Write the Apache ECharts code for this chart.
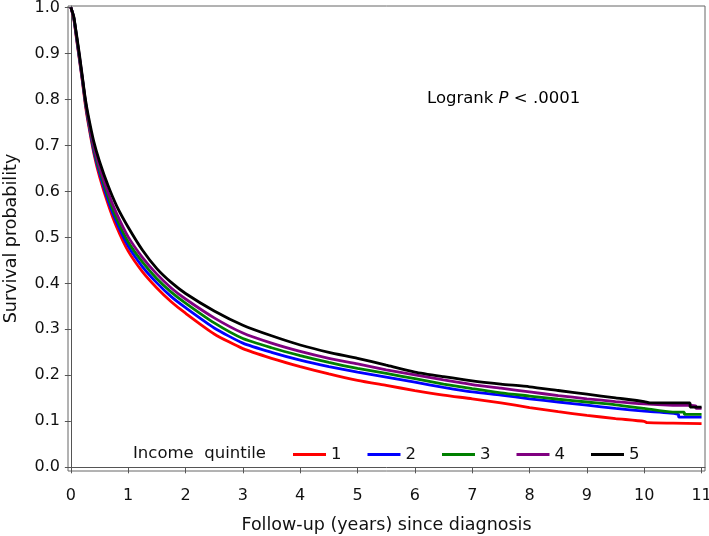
<!DOCTYPE html>
<html>
<head>
<meta charset="utf-8">
<script src="https://cdn.jsdelivr.net/npm/echarts@6/dist/echarts.min.js"></script>
<style>html,body{margin:0;padding:0;background:#fff}#c{width:709px;height:536px}</style>
</head>
<body>
<div id="c"></div>
<script>
var times = [0, 0.05, 0.1, 0.15, 0.2, 0.25, 0.3, 0.4, 0.5, 0.65, 0.8, 1.0, 1.25, 1.5, 1.75, 2, 2.5, 3, 3.5, 4, 4.5, 5, 5.5, 6, 6.5, 7, 7.5, 8, 8.5, 9, 9.5, 10];
var q1 = [1.0, 0.975, 0.93, 0.885, 0.84, 0.79, 0.75, 0.683, 0.632, 0.572, 0.522, 0.47, 0.425, 0.39, 0.36, 0.335, 0.29, 0.258, 0.237, 0.219, 0.203, 0.189, 0.178, 0.167, 0.157, 0.149, 0.14, 0.13, 0.121, 0.113, 0.106, 0.1];
var q2 = [1.0, 0.977, 0.933, 0.888, 0.843, 0.795, 0.755, 0.688, 0.64, 0.58, 0.532, 0.481, 0.436, 0.401, 0.371, 0.347, 0.303, 0.27, 0.25, 0.233, 0.219, 0.207, 0.196, 0.185, 0.174, 0.164, 0.157, 0.149, 0.142, 0.135, 0.128, 0.122];
var q3 = [1.0, 0.978, 0.935, 0.89, 0.845, 0.797, 0.758, 0.693, 0.646, 0.588, 0.54, 0.49, 0.446, 0.41, 0.381, 0.357, 0.314, 0.28, 0.26, 0.243, 0.228, 0.215, 0.204, 0.193, 0.181, 0.171, 0.162, 0.155, 0.148, 0.142, 0.136, 0.128];
var q4 = [1.0, 0.979, 0.937, 0.893, 0.847, 0.8, 0.761, 0.698, 0.653, 0.597, 0.551, 0.501, 0.456, 0.42, 0.39, 0.366, 0.325, 0.292, 0.27, 0.252, 0.237, 0.225, 0.212, 0.201, 0.19, 0.18, 0.172, 0.164, 0.156, 0.149, 0.143, 0.138];
var q5 = [1.0, 0.98, 0.94, 0.897, 0.85, 0.803, 0.767, 0.708, 0.665, 0.612, 0.568, 0.522, 0.472, 0.432, 0.402, 0.378, 0.34, 0.309, 0.286, 0.266, 0.25, 0.237, 0.222, 0.207, 0.197, 0.188, 0.181, 0.175, 0.167, 0.159, 0.151, 0.143];
// tail segments (time, value) after 10 years, with step drops
var tail1 = [[10.05, 0.097], [10.5, 0.096], [11, 0.095]];
var tail2 = [[10.6, 0.115], [10.6, 0.109], [11, 0.109]];
var tail3 = [[10.5, 0.12], [10.7, 0.12], [10.7, 0.115], [11, 0.115]];
var tail4 = [[10.5, 0.135], [10.9, 0.134], [10.9, 0.128], [11, 0.128]];
var tail5 = [[10.1, 0.14], [10.8, 0.14], [10.8, 0.131], [11, 0.131]];
var quintiles = ['1', '2', '3', '4', '5'];
var colors = ['#ff0000', '#0000ff', '#008000', '#800080', '#000000'];
var xTicks = [0, 1, 2, 3, 4, 5, 6, 7, 8, 9, 10, 11];
var yTicks = [0, 0.1, 0.2, 0.3, 0.4, 0.5, 0.6, 0.7, 0.8, 0.9, 1.0];

function pts(vals, tail) {
  var out = times.map(function (t, i) { return [t, vals[i]]; });
  return out.concat(tail);
}
var allVals = [q1, q2, q3, q4, q5];
var allTails = [tail1, tail2, tail3, tail4, tail5];
var FONT = 'DejaVu Sans';

var chart = echarts.init(document.getElementById('c'), null, {renderer: 'canvas'});
chart.setOption({
  animation: false,
  backgroundColor: '#fff',
  grid: {left: 68, right: 4, top: 6, bottom: 65, show: true, borderColor: '#666', borderWidth: 1,
    containLabel: false, outerBoundsMode: 'none'},
  xAxis: {
    type: 'value', min: -0.05, max: 11.06,
    axisLine: {show: true, lineStyle: {color: '#555', width: 1}},
    axisTick: {show: true, length: 6, lineStyle: {color: '#555'}, customValues: xTicks},
    axisLabel: {fontFamily: FONT, fontSize: 16, color: '#111', margin: 17, customValues: xTicks},
    splitLine: {show: false},
    name: 'Follow-up (years) since diagnosis', nameLocation: 'middle', nameGap: 45, nameMoveOverlap: false,
    nameTextStyle: {fontFamily: FONT, fontSize: 17.5, color: '#111'}
  },
  yAxis: {
    type: 'value', min: -0.008, max: 1.003,
    axisLine: {show: true, lineStyle: {color: '#555', width: 1}},
    axisTick: {show: true, length: 6, lineStyle: {color: '#555'}, customValues: yTicks},
    axisLabel: {fontFamily: FONT, fontSize: 16, color: '#111', margin: 8, customValues: yTicks,
      formatter: function (v) { return v.toFixed(1); }},
    splitLine: {show: false},
    name: 'Survival probability', nameLocation: 'middle', nameGap: 48, nameMoveOverlap: false,
    nameTextStyle: {fontFamily: FONT, fontSize: 17.5, color: '#111'}
  },
  legend: {
    data: quintiles, left: 293, top: 446, padding: 0, icon: 'rect', itemWidth: 33, itemHeight: 3,
    itemGap: 26, textStyle: {fontFamily: FONT, fontSize: 16.5, color: '#111'}
  },
  graphic: [
    {type: 'text', left: 133, top: 445, style: {text: 'Income  quintile', font: '16.5px "DejaVu Sans"', fill: '#111'}},
    {type: 'text', left: 427, top: 90, style: {
      text: '{a|Logrank }{b|P}{a| < .0001}',
      rich: {a: {fontFamily: FONT, fontSize: 16.5, color: '#111'}, b: {fontFamily: FONT, fontSize: 16.5, fontStyle: 'italic', color: '#111'}}
    }}
  ],
  series: quintiles.map(function (q, i) {
    return {
      name: q, type: 'line', data: pts(allVals[i], allTails[i]), showSymbol: false, symbol: 'none',
      smooth: 0.2, itemStyle: {color: colors[i]}, lineStyle: {color: colors[i], width: 2.8}, z: 2 + i
    };
  })
});
</script>
</body>
</html>
